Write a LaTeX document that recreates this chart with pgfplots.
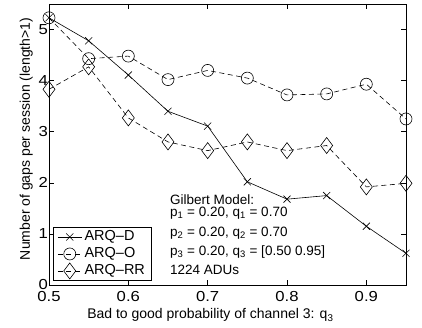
\documentclass[border=0pt]{standalone}
\usepackage{fontspec}
\setmainfont{Liberation Sans}
\newfontfamily\tickfont[FakeStretch=1.15]{Liberation Sans}
\usepackage{pgfplots}
\pgfplotsset{compat=1.18}
\begin{document}
\begin{tikzpicture}
\useasboundingbox (-49pt,-43pt) rectangle (373pt,285pt);
\begin{axis}[
  at={(0pt,0pt)}, anchor=south west,
  scale only axis,
  width=357pt, height=281pt,
  xmin=0.5, xmax=0.95, ymin=0, ymax=5.5,
  xtick={0.5,0.6,0.7,0.8,0.9},
  ytick={0,1,2,3,4,5},
  xticklabels={0.5,0.6,0.7,0.8,0.9},
  tick align=inside,
  tick pos=both,
  major tick length=5pt,
  tick style={black, line width=0.5pt},
  axis line style={line width=0.8pt},
  /pgf/number format/assume math mode=true,
  tick label style={font=\tickfont\fontsize{14.5}{16}\selectfont},
  xticklabel style={yshift=-3pt},
  yticklabel style={xshift=2.5pt},
  xlabel={Bad to good probability of channel 3: q\textsubscript{3}},
  ylabel={Number of gaps per session (length>1)},
  label style={font=\fontsize{14}{16}\selectfont},
  xlabel style={at={(axis description cs:0.452,0)}, anchor=base, yshift=-34pt},
  ylabel style={at={(axis description cs:-0.045,0.52)}, anchor=south, inner sep=0pt},
  clip=false,
  legend style={font=\fontsize{14.5}{16}\selectfont, draw=black, line width=1.2pt,
    at={(rel axis cs:0.011,0.014)}, anchor=south west, inner xsep=4pt, inner ysep=1pt,
    row sep=0pt,
    nodes={inner sep=2.5pt, text height=10pt, text depth=2pt}},
  legend cell align=left,
  legend image code/.code={\draw[mark repeat=2,mark phase=2,line width=0.6pt] plot coordinates {(0cm,0cm) (0.42cm,0cm) (0.84cm,0cm)};},
]
\addplot[black, solid, line width=0.6pt, mark=x, mark size=5pt, mark options={solid}] coordinates {
(0.50,5.23) (0.55,4.78) (0.60,4.11) (0.65,3.40) (0.70,3.11) (0.75,2.02) (0.80,1.68) (0.85,1.75) (0.90,1.15) (0.95,0.62)};
\addlegendentry{ARQ--D}
\addplot[black, dash pattern=on 5pt off 3.5pt, line width=0.6pt, mark=o, mark size=6pt, mark options={solid}] coordinates {
(0.50,5.23) (0.55,4.43) (0.60,4.48) (0.65,4.02) (0.70,4.20) (0.75,4.05) (0.80,3.72) (0.85,3.74) (0.90,3.93) (0.95,3.25)};
\addlegendentry{ARQ--O}
\addplot[black, dash pattern=on 5pt off 3.5pt, line width=0.6pt, mark=diamond, mark size=8pt, mark options={solid}] coordinates {
(0.50,3.83) (0.55,4.27) (0.60,3.27) (0.65,2.80) (0.70,2.63) (0.75,2.80) (0.80,2.63) (0.85,2.73) (0.90,1.92) (0.95,1.99)};
\addlegendentry{ARQ--RR}
\begin{scope}[every node/.style={anchor=base west, inner sep=0pt, font=\fontsize{13.5}{16}\selectfont}]
\node at (axis cs:0.6525,1.571) {Gilbert Model:};
\node at (axis cs:0.6525,1.344) {p\textsubscript{1} = 0.20, q\textsubscript{1} = 0.70};
\node at (axis cs:0.6525,0.959) {p\textsubscript{2} = 0.20, q\textsubscript{2} = 0.70};
\node at (axis cs:0.6525,0.587) {p\textsubscript{3} = 0.20, q\textsubscript{3} = [0.50 0.95]};
\node at (axis cs:0.6525,0.215) {1224 ADUs};
\end{scope}
\end{axis}
\end{tikzpicture}
\end{document}
